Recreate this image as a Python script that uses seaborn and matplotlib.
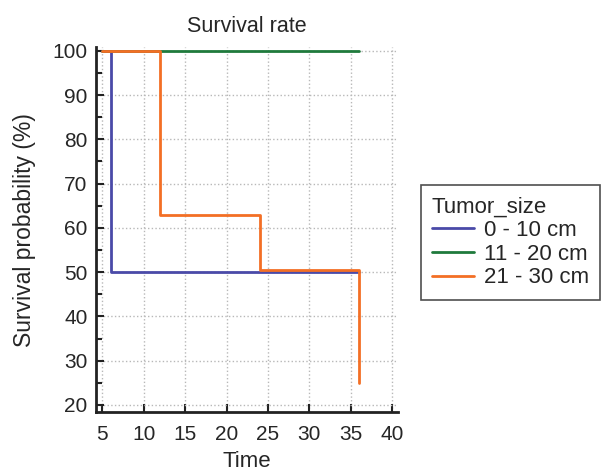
import matplotlib
matplotlib.use("Agg")
import matplotlib.pyplot as plt
from matplotlib.ticker import MultipleLocator
import seaborn as sns
import pandas as pd

# Kaplan-Meier style step data
groups = ["0 - 10 cm", "11 - 20 cm", "21 - 30 cm"]
time_small = [5, 6, 36]
surv_small = [100, 50, 50]
time_mid = [5, 36]
surv_mid = [100, 100]
time_large = [5, 12, 24, 36]
surv_large = [100, 63, 50.5, 25]
colors = ["#4a4aa8", "#1f7a3c", "#f36f25"]

rows = []
for g, ts, ss in zip(groups, [time_small, time_mid, time_large],
                     [surv_small, surv_mid, surv_large]):
    for t, s in zip(ts, ss):
        rows.append({"Time": t, "Survival": s, "Tumor_size": g})
df = pd.DataFrame(rows)

sns.set_style("white")
plt.rcParams["font.family"] = ["Liberation Sans", "DejaVu Sans"]

fig = plt.figure(figsize=(6.14, 4.72), dpi=100)
ax = fig.add_axes([0.156, 0.127, 0.492, 0.773])

sns.lineplot(data=df, x="Time", y="Survival", hue="Tumor_size",
             hue_order=groups, palette=colors, drawstyle="steps-post",
             linewidth=2, ax=ax, estimator=None, sort=True)

ax.set_xlim(4.2, 40.7)
ax.set_ylim(18.4, 100.8)
ax.xaxis.set_major_locator(MultipleLocator(5))
ax.yaxis.set_major_locator(MultipleLocator(10))
ax.yaxis.set_minor_locator(MultipleLocator(5))
ax.grid(True, which="major", linestyle=":", color="#b8b8b8", linewidth=1)
ax.tick_params(axis="both", which="both", direction="in", labelsize=15,
               width=1.5, color="#222222", left=True, bottom=True)
ax.tick_params(axis="both", which="major", length=6)
ax.tick_params(axis="y", which="major", pad=6)
ax.tick_params(axis="x", which="major", pad=9)
ax.tick_params(axis="y", which="minor", length=4)

for side in ["top", "right"]:
    ax.spines[side].set_visible(False)
for side in ["left", "bottom"]:
    ax.spines[side].set_linewidth(2)
    ax.spines[side].set_color("#222222")

ax.set_title("Survival rate", fontsize=15.5, pad=11)
ax.set_xlabel("Time", fontsize=16, labelpad=5)
ax.set_ylabel("Survival probability (%)", fontsize=16.5, labelpad=12)

leg = ax.legend(title="Tumor_size", loc="center left",
                bbox_to_anchor=(1.075, 0.465), fontsize=16, title_fontsize=16,
                frameon=True, fancybox=False, edgecolor="#222222",
                borderpad=0.5, handlelength=1.9, handletextpad=0.45,
                labelspacing=0.12, borderaxespad=0)
leg._legend_box.align = "left"
leg.get_frame().set_linewidth(1.2)

plt.savefig("out.png", dpi=100)
